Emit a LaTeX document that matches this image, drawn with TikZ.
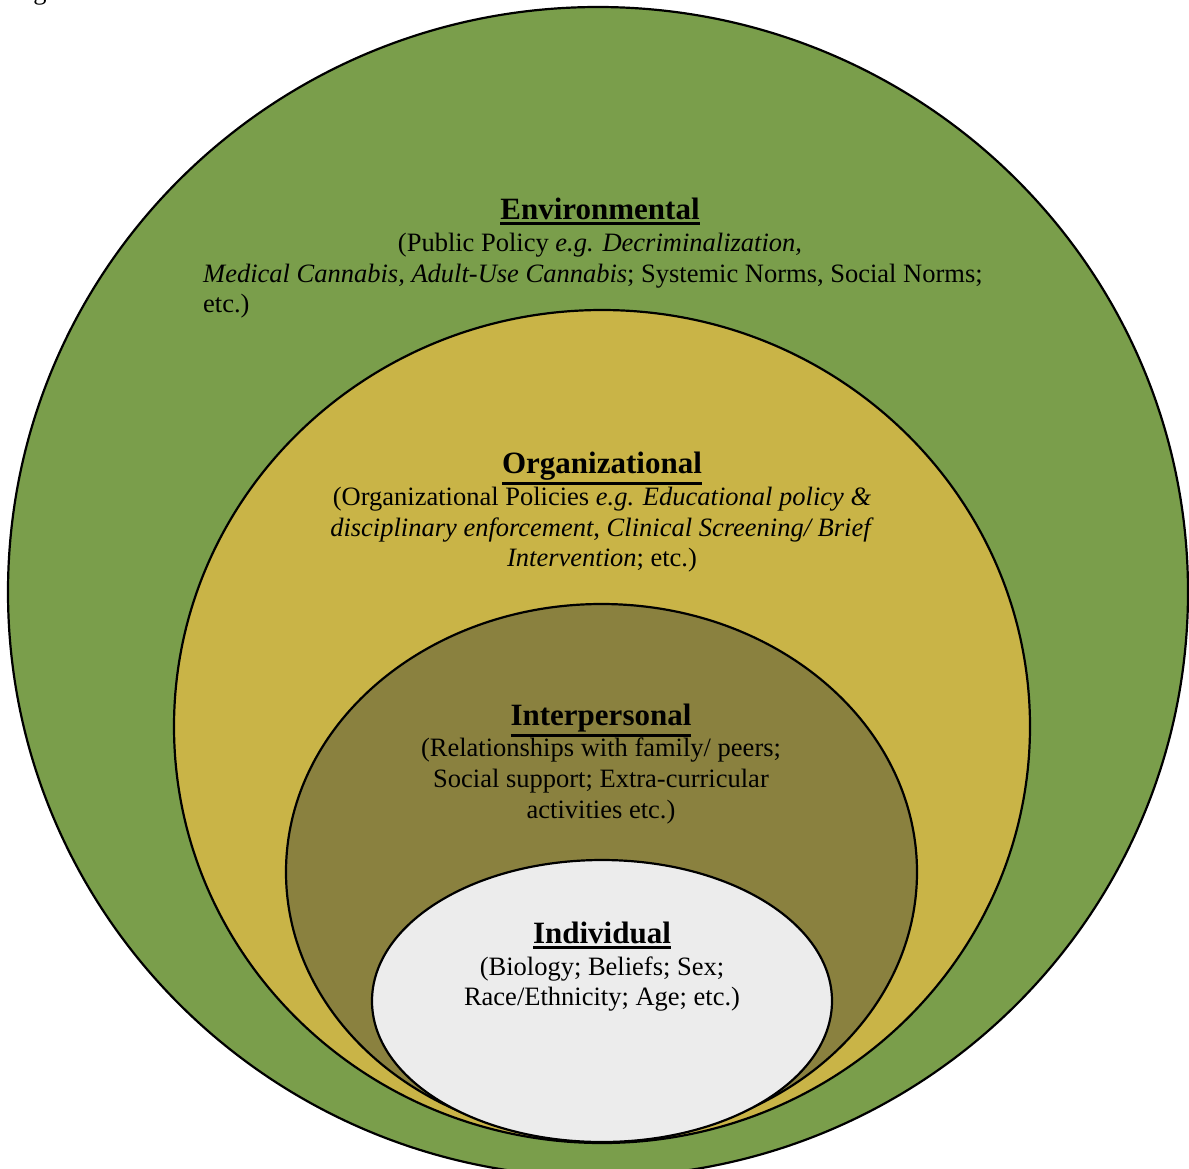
\documentclass[tikz,border=0pt]{standalone}
\usepackage{fontspec}
\setmainfont{Liberation Serif}
\definecolor{envgreen}{HTML}{7A9E4B}
\definecolor{orgyellow}{HTML}{C9B447}
\definecolor{interolive}{HTML}{8A813F}
\definecolor{indgray}{HTML}{ECECEC}
\newcommand{\myul}[1]{\leavevmode\vtop{\hbox{#1}\kern2.5pt\hrule height 3pt}}
\begin{document}
\begin{tikzpicture}[x=1pt,y=-1pt,
  ring/.style={draw=black,line width=2.2pt},
  title/.style={inner sep=0pt,anchor=base,font=\fontsize{31}{36}\selectfont\bfseries},
  body/.style={inner sep=0pt,anchor=base,font=\fontsize{26.5}{31}\selectfont},
  bodyw/.style={inner sep=0pt,anchor=base west,font=\fontsize{26.5}{31}\selectfont}]
\useasboundingbox (0,0) rectangle (1189,1168);
\fill[white] (0,0) rectangle (1189,1168);
\node[bodyw] (fig) at (11,-1) {Figure};
% rings
\draw[ring,fill=envgreen] (598,592) ellipse [x radius=590pt, y radius=585pt];
\draw[ring,fill=orgyellow] (602,726.5) ellipse [x radius=428pt, y radius=416.5pt];
\draw[ring,fill=interolive] (601.5,872) ellipse [x radius=315.5pt, y radius=268pt];
\draw[ring,fill=indgray] (602,1001) ellipse [x radius=230pt, y radius=141pt];
% Environmental
\node[title] (envt) at (600,219) {\myul{Environmental}};
\node[body] (env1) at (600,251) {(Public Policy \textit{e.g. Decriminalization,}};
\node[bodyw] (env2) at (203,282) {\textit{Medical Cannabis, Adult-Use Cannabis}; Systemic Norms, Social Norms;};
\node[bodyw] (env3) at (203,312) {etc.)};
% Organizational
\node[title] (orgt) at (602,473) {\myul{Organizational}};
\node[body] (org1) at (602,505) {(Organizational Policies \textit{e.g. Educational policy \&}};
\node[body] (org2) at (602,536) {\textit{disciplinary enforcement}, \textit{Clinical Screening/ Brief}};
\node[body] (org3) at (602,566) {\textit{Intervention}; etc.)};
% Interpersonal
\node[title] (intt) at (601,725) {\myul{Interpersonal}};
\node[body] (int1) at (601,756) {(Relationships with family/ peers;};
\node[body] (int2) at (601,787) {Social support; Extra-curricular};
\node[body] (int3) at (601,818) {activities etc.)};
% Individual
\node[title] (indt) at (602,943) {\myul{Individual}};
\node[body] (ind1) at (602,975) {(Biology; Beliefs; Sex;};
\node[body] (ind2) at (602,1005) {Race/Ethnicity; Age; etc.)};
\end{tikzpicture}
\end{document}
